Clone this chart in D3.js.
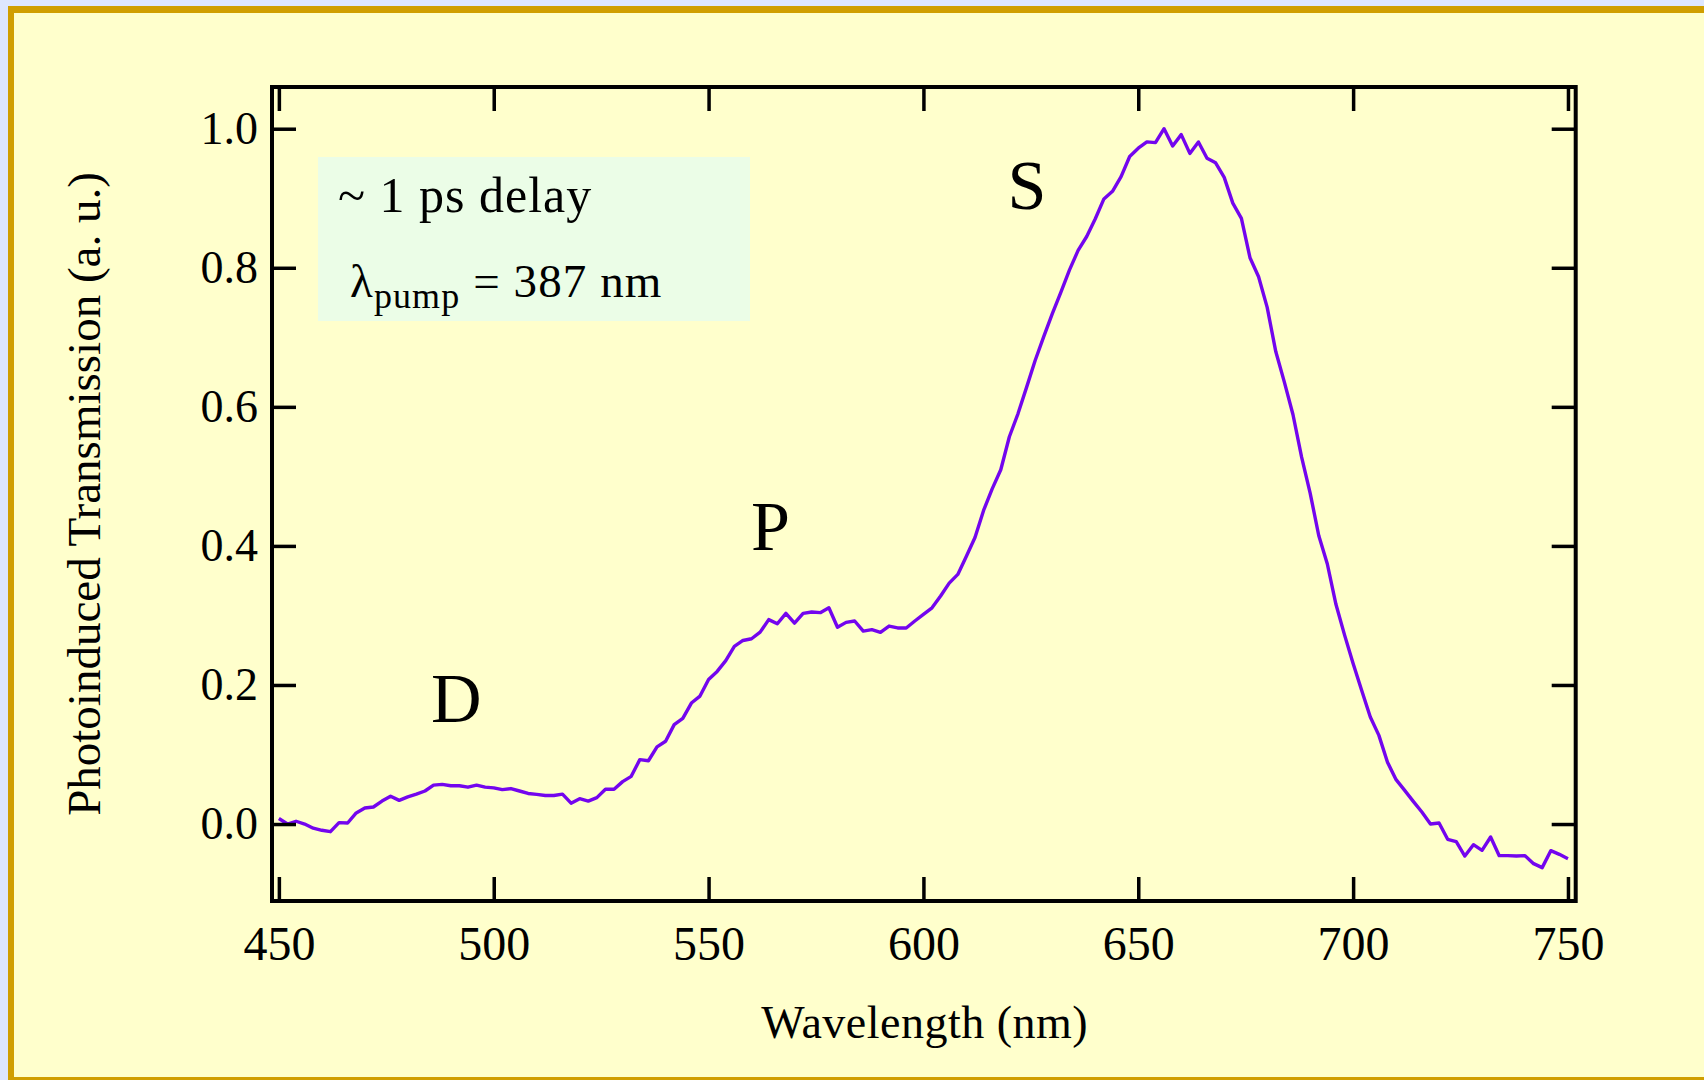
<!DOCTYPE html>
<html>
<head>
<meta charset="utf-8">
<title>Photoinduced Transmission</title>
<script src="https://cdn.jsdelivr.net/npm/d3@7"></script>
<style>
    html, body { margin: 0; padding: 0; background: #dde6fe; }
    svg { display: block; }
</style>
</head>
<body>
<div id="chart"></div>
<script>
// Photoinduced transmission spectrum, ~1 ps after a 387 nm pump pulse.
// Values, one point every 2 nm.

var wavelengths = [
    450, 452, 454, 456, 458, 460, 462, 464, 466, 468, 470, 472, 474, 476, 478, 480,
    482, 484, 486, 488, 490, 492, 494, 496, 498, 500, 502, 504, 506, 508, 510, 512,
    514, 516, 518, 520, 522, 524, 526, 528, 530, 532, 534, 536, 538, 540, 542, 544,
    546, 548, 550, 552, 554, 556, 558, 560, 562, 564, 566, 568, 570, 572, 574, 576,
    578, 580, 582, 584, 586, 588, 590, 592, 594, 596, 598, 600, 602, 604, 606, 608,
    610, 612, 614, 616, 618, 620, 622, 624, 626, 628, 630, 632, 634, 636, 638, 640,
    642, 644, 646, 648, 650, 652, 654, 656, 658, 660, 662, 664, 666, 668, 670, 672,
    674, 676, 678, 680, 682, 684, 686, 688, 690, 692, 694, 696, 698, 700, 702, 704,
    706, 708, 710, 712, 714, 716, 718, 720, 722, 724, 726, 728, 730, 732, 734, 736,
    738, 740, 742, 744, 746, 748, 750
];

var transmission = [
    0.008, 0.000, 0.004, 0.000, -0.006, -0.009, -0.011, 0.002, 0.0015, 0.016, 0.023, 0.0245, 0.033, 0.040, 0.034, 0.039,
    0.043, 0.0475, 0.056, 0.057, 0.055, 0.055, 0.053, 0.056, 0.053, 0.052, 0.0495, 0.051, 0.0475, 0.044, 0.0427, 0.041,
    0.041, 0.043, 0.030, 0.0365, 0.033, 0.038, 0.050, 0.050, 0.061, 0.0686, 0.0926, 0.091, 0.111, 0.119, 0.143, 0.152,
    0.174, 0.184, 0.208, 0.2195, 0.235, 0.2555, 0.264, 0.2665, 0.276, 0.294, 0.288, 0.303, 0.289, 0.303, 0.305, 0.304,
    0.311, 0.283, 0.290, 0.292, 0.2775, 0.2795, 0.2756, 0.2847, 0.282, 0.282, 0.292, 0.3015, 0.311, 0.328, 0.3465, 0.359,
    0.385, 0.412, 0.451, 0.482, 0.5095, 0.557, 0.590, 0.628, 0.6667, 0.701, 0.734, 0.765, 0.797, 0.825, 0.845, 0.8705,
    0.899, 0.910, 0.931, 0.960, 0.972, 0.981, 0.980, 1.000, 0.975, 0.9915, 0.9645, 0.981, 0.9575, 0.951, 0.930, 0.893,
    0.871, 0.8145, 0.787, 0.743, 0.6795, 0.6355, 0.589, 0.528, 0.476, 0.415, 0.374, 0.316, 0.272, 0.231, 0.192, 0.154,
    0.1275, 0.089, 0.0638, 0.0485, 0.0326, 0.0173, 0.000, 0.0015, -0.022, -0.0254, -0.046, -0.0297, -0.0378, -0.0187, -0.0455, -0.0455,
    -0.046, -0.0455, -0.057, -0.0627, -0.0383, -0.0436, -0.0498
];

var xTicks = [450, 500, 550, 600, 650, 700, 750];
var yTicks = [0.0, 0.2, 0.4, 0.6, 0.8, 1.0];
var bandLabels = ['D', 'P', 'S'];

var FONT = '"Liberation Serif", "Times New Roman", serif';
var LINE_COLOR = '#7305ee';
var TICK_LEN = 24;

// ============================================================================
// LAYOUT
// ============================================================================

var width = 1704;
var height = 1080;
var margin = { top: 87, right: 128.3, bottom: 179, left: 272 };

// band label anchors (data coords: wavelength, value at the text baseline)
var bandAnchors = { D: [491.3, 0.147], P: [564.4, 0.394], S: [624.1, 0.8845] };

var svg = d3.select('#chart').append('svg')
    .attr('width', width)
    .attr('height', height);

// page border: gold frame on the light blue page, pale yellow panel
svg.append('rect')
    .attr('x', 8).attr('y', 6)
    .attr('width', width).attr('height', height)
    .attr('fill', '#d09e00');
svg.append('rect')
    .attr('x', 14).attr('y', 13)
    .attr('width', width).attr('height', 1077 - 13)
    .attr('fill', '#ffffcc');

// ============================================================================
// SCALES
// ============================================================================

var xScale = d3.scaleLinear()
    .domain([448.4, 751.8])
    .range([margin.left, width - margin.right]);

var yScale = d3.scaleLinear()
    .domain([-0.1107, 1.06])
    .range([height - margin.bottom, margin.top]);

// ============================================================================
// ANNOTATION BOX
// ============================================================================

svg.append('rect')
    .attr('x', 318).attr('y', 157)
    .attr('width', 432).attr('height', 164)
    .attr('fill', '#ebfde7');

svg.append('text')
    .attr('x', 338).attr('y', 212)
    .attr('font-family', FONT)
    .attr('font-size', 50)
    .attr('letter-spacing', 1)
    .text('~ 1 ps delay');

var pump = svg.append('text')
    .attr('x', 350).attr('y', 297)
    .attr('font-family', FONT)
    .attr('font-size', 47)
    .attr('letter-spacing', 1.1);
pump.append('tspan').text('λ');
pump.append('tspan').attr('font-size', 36).attr('dy', 11).text('pump');
pump.append('tspan').attr('dy', -11).text(' = 387 nm');

// ============================================================================
// CURVE
// ============================================================================

var points = wavelengths.map(function(w, i) { return [w, transmission[i]]; });

var line = d3.line()
    .x(function(d) { return xScale(d[0]); })
    .y(function(d) { return yScale(d[1]); });

svg.append('path')
    .datum(points)
    .attr('d', line)
    .attr('fill', 'none')
    .attr('stroke', LINE_COLOR)
    .attr('stroke-width', 3.4)
    .attr('stroke-linejoin', 'round');

// ============================================================================
// AXES (ticks inside on all four sides)
// ============================================================================

function styleAxis(g, size) {
    g.select('.domain').remove();
    g.attr('font-family', FONT).attr('font-size', size);
    g.selectAll('line').attr('stroke', '#000').attr('stroke-width', 3.5);
    g.selectAll('text').attr('fill', '#000');
}

var xBottom = svg.append('g')
    .attr('transform', 'translate(0,' + (height - margin.bottom) + ')')
    .call(d3.axisBottom(xScale).tickValues(xTicks).tickSizeInner(-TICK_LEN).tickSizeOuter(0)
        .tickFormat(d3.format('d')));
styleAxis(xBottom, 48);
xBottom.selectAll('text').attr('y', 59).attr('dy', null);

var xTop = svg.append('g')
    .attr('transform', 'translate(0,' + margin.top + ')')
    .call(d3.axisTop(xScale).tickValues(xTicks).tickSizeInner(-TICK_LEN).tickSizeOuter(0)
        .tickFormat(''));
styleAxis(xTop, 48);

var yLeft = svg.append('g')
    .attr('transform', 'translate(' + margin.left + ',0)')
    .call(d3.axisLeft(yScale).tickValues(yTicks).tickSizeInner(-TICK_LEN).tickSizeOuter(0)
        .tickPadding(14).tickFormat(d3.format('.1f')));
styleAxis(yLeft, 46);

var yRight = svg.append('g')
    .attr('transform', 'translate(' + (width - margin.right) + ',0)')
    .call(d3.axisRight(yScale).tickValues(yTicks).tickSizeInner(-TICK_LEN).tickSizeOuter(0)
        .tickFormat(''));
styleAxis(yRight, 46);

// plot frame
svg.append('rect')
    .attr('x', margin.left)
    .attr('y', margin.top)
    .attr('width', width - margin.left - margin.right)
    .attr('height', height - margin.top - margin.bottom)
    .attr('fill', 'none')
    .attr('stroke', '#000')
    .attr('stroke-width', 4);

// axis titles
svg.append('text')
    .attr('x', (margin.left + width - margin.right) / 2 + 0.8)
    .attr('y', 1038)
    .attr('text-anchor', 'middle')
    .attr('font-family', FONT)
    .attr('font-size', 46)
    .attr('letter-spacing', 0.5)
    .text('Wavelength (nm)');

svg.append('text')
    .attr('transform', 'translate(100,494) rotate(-90)')
    .attr('text-anchor', 'middle')
    .attr('font-family', FONT)
    .attr('font-size', 47)
    .text('Photoinduced Transmission (a. u.)');

// ============================================================================
// BAND LABELS
// ============================================================================

svg.selectAll('text.band')
    .data(bandLabels)
    .join('text')
    .attr('class', 'band')
    .attr('x', function(d) { return xScale(bandAnchors[d][0]); })
    .attr('y', function(d) { return yScale(bandAnchors[d][1]); })
    .attr('text-anchor', 'middle')
    .attr('font-family', FONT)
    .attr('font-size', 70)
    .text(function(d) { return d; });
</script>
</body>
</html>
